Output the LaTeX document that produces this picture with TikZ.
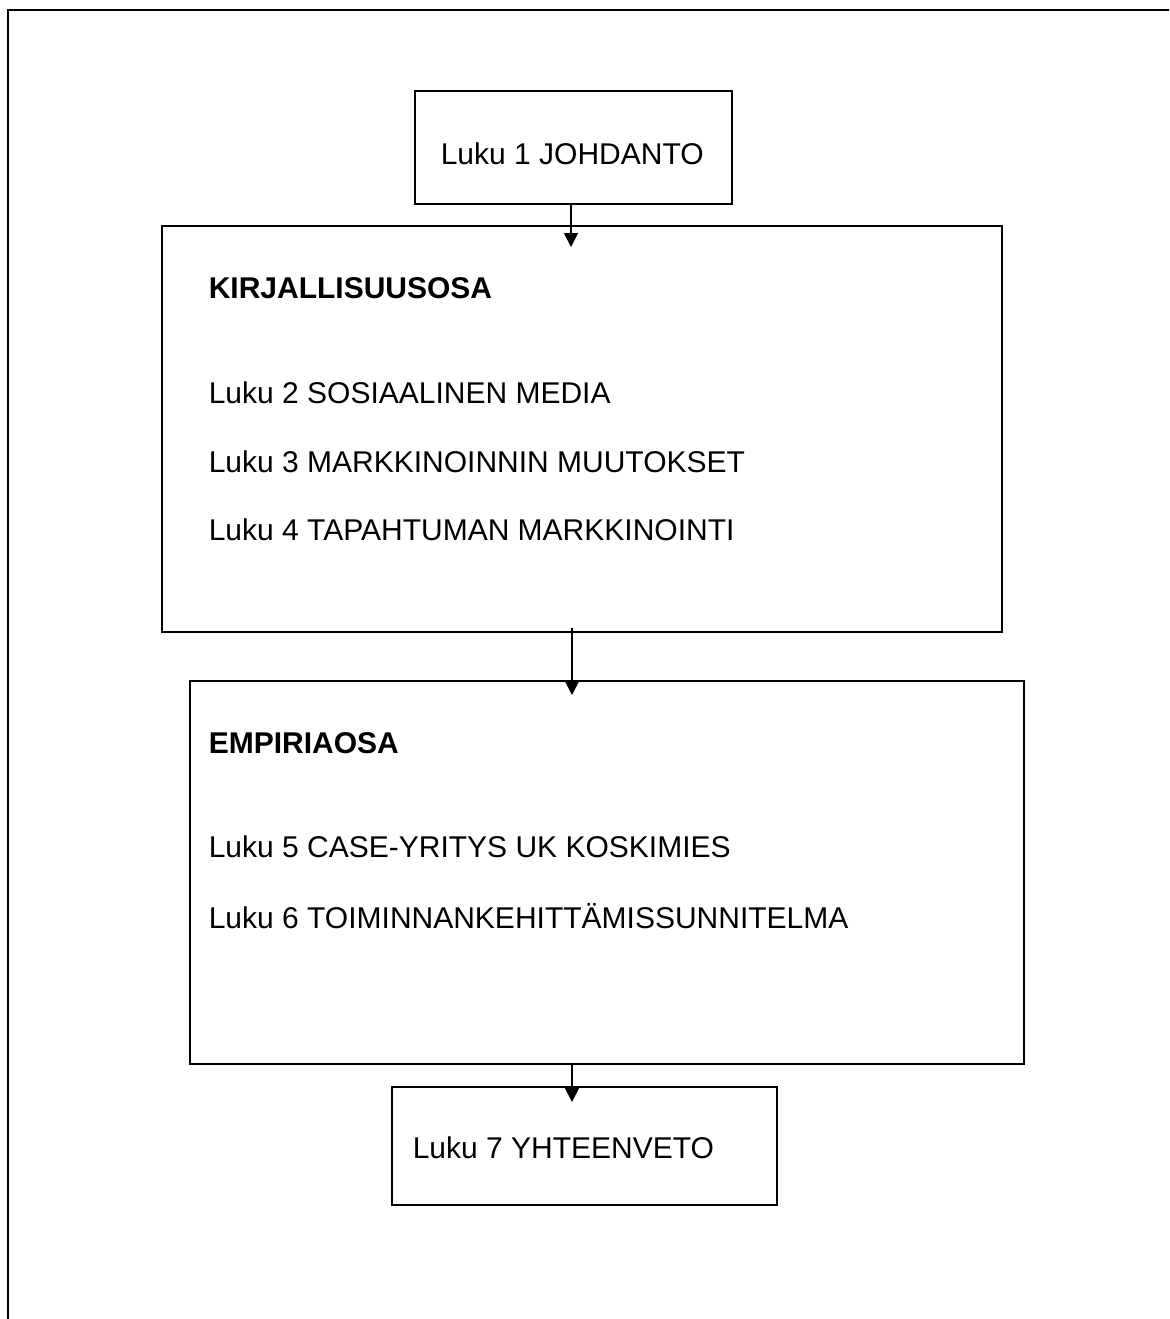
\documentclass[tikz,border=0pt]{standalone}
\usepackage{fontspec}
\setmainfont{Liberation Sans}
\usetikzlibrary{arrows.meta}
\tikzset{every picture/.style={line width=0.8pt}}
\tikzset{
  chapbox/.style={draw, line width=0.8pt, anchor=north west, inner sep=0pt},
  chaptext/.style={anchor=base west, inner sep=0pt, font=\fontsize{15pt}{18pt}\selectfont},
  flowarrow/.style={line width=0.8pt, -{Triangle[length=7pt,width=7pt]}}
}

\begin{document}
\begin{tikzpicture}[x=0.5pt,y=0.5pt,yscale=-1,xscale=1]
\useasboundingbox (0,0) rectangle (1169,1319);

%Frame
\draw [line width=1pt] (1169,10) -- (8,10) -- (8,1319) ;

%Boxes
\node [chapbox, minimum width=158.5pt, minimum height=56.5pt] (johdanto) at (414,90) {};
\node [chapbox, minimum width=420pt, minimum height=203pt] (kirjallisuus) at (161,225) {};
\node [chapbox, minimum width=417pt, minimum height=191.5pt] (empiria) at (189,680) {};
\node [chapbox, minimum width=192.5pt, minimum height=59pt] (yhteenveto) at (391,1086) {};

% Text Node
\node [chaptext] (t1) at (440,164) {Luku 1 JOHDANTO};
\node [chaptext] (tk) at (208,298) {\bfseries KIRJALLISUUSOSA};
\node [chaptext] (t2) at (208,403) {Luku 2 SOSIAALINEN MEDIA};
\node [chaptext] (t3) at (208,472) {Luku 3 MARKKINOINNIN MUUTOKSET};
\node [chaptext] (t4) at (208,540) {Luku 4 TAPAHTUMAN MARKKINOINTI};
\node [chaptext] (te) at (208,753) {\bfseries EMPIRIAOSA};
\node [chaptext] (t5) at (208,857) {Luku 5 CASE-YRITYS UK KOSKIMIES};
\node [chaptext] (t6) at (208,928) {Luku 6 TOIMINNANKEHITTÄMISSUNNITELMA};
\node [chaptext] (t7) at (412,1158) {Luku 7 YHTEENVETO};

%Arrows
\coordinate (a1) at (571,247);
\coordinate (a2s) at (572,628);
\coordinate (a2) at (572,695);
\coordinate (a3) at (572,1102);
\draw [flowarrow] (johdanto.south -| a1) -- (a1) ;
\draw [flowarrow] (a2s) -- (a2) ;
\draw [flowarrow] (empiria.south -| a3) -- (a3) ;

\end{tikzpicture}
\end{document}
